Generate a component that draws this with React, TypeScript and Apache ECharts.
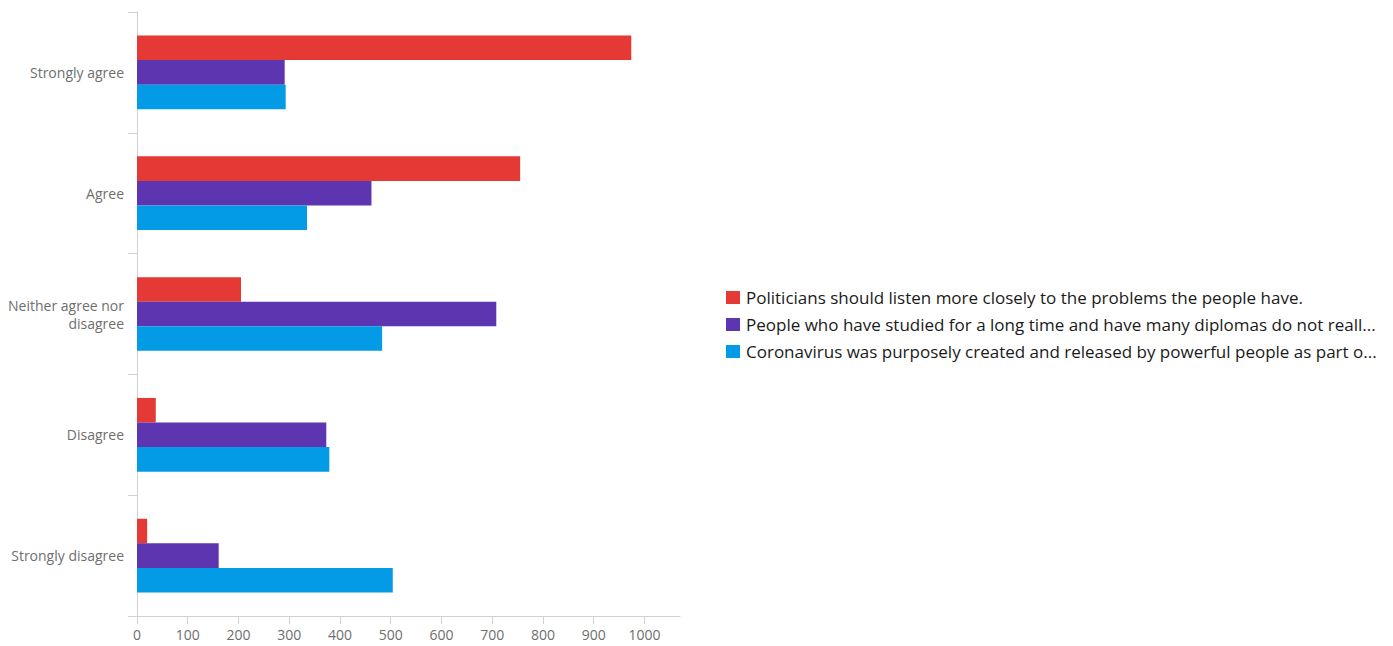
import React, { useEffect, useRef } from "react";
import * as echarts from "echarts";

const categories = ["Strongly agree", "Agree", "Neither agree nor disagree", "Disagree", "Strongly disagree"];
const seriesNames = [
  "Politicians should listen more closely to the problems the people have.",
  "People who have studied for a long time and have many diplomas do not reall...",
  "Coronavirus was purposely created and released by powerful people as part o...",
];
const politicians = [974, 755, 205, 37, 20];
const studied = [291, 462, 708, 373, 161];
const coronavirus = [293, 335, 483, 379, 504];
const colors = ["#E53935", "#5E35B1", "#039BE5"];
const xTicks = { min: 0, max: 1070, interval: 100 };

export default function App() {
  const ref = useRef<HTMLDivElement>(null);
  useEffect(() => {
    const chart = echarts.init(ref.current!, null, { renderer: "svg" });
    const data = [politicians, studied, coronavirus];
    chart.setOption({
      animation: false,
      textStyle: { fontFamily: "Open Sans" },
      grid: { left: 137, right: 713, top: 12, bottom: 30, containLabel: false },
      legend: {
        orient: "vertical",
        left: 721,
        top: 284,
        itemWidth: 14,
        itemHeight: 13,
        itemGap: 10,
        icon: "rect",
        textStyle: { fontSize: 17, color: "#1a1a1a", fontFamily: "Open Sans", padding: [0, 0, 0, 1] },
        data: seriesNames,
      },
      xAxis: {
        type: "value",
        min: xTicks.min,
        max: xTicks.max,
        interval: xTicks.interval,
        splitLine: { show: false },
        axisLine: { show: true, lineStyle: { color: "#d0d0d0", width: 1 } },
        axisTick: { show: true, length: 8, lineStyle: { color: "#d0d0d0" } },
        axisLabel: {
          color: "#6e6e6e",
          fontSize: 14,
          margin: 11,
          showMaxLabel: false,
          formatter: (v: number) => String(v),
        },
      },
      yAxis: {
        type: "category",
        inverse: true,
        data: categories,
        axisLine: { show: true, lineStyle: { color: "#d0d0d0", width: 1 } },
        axisTick: { show: true, length: 9, lineStyle: { color: "#d0d0d0" } },
        axisLabel: {
          color: "#6e6e6e",
          fontSize: 14,
          margin: 13,
          lineHeight: 18,
          formatter: (v: string) => v.replace("nor ", "nor\n"),
        },
      },
      series: seriesNames.map((name, i) => ({
        name,
        type: "bar",
        data: data[i],
        itemStyle: { color: colors[i] },
        barGap: "0%",
        barCategoryGap: "39%",
      })),
    });
    return () => chart.dispose();
  }, []);
  return <div ref={ref} style={{ position: "absolute", left: 0, top: 0, width: 1393, height: 646 }} />;
}
